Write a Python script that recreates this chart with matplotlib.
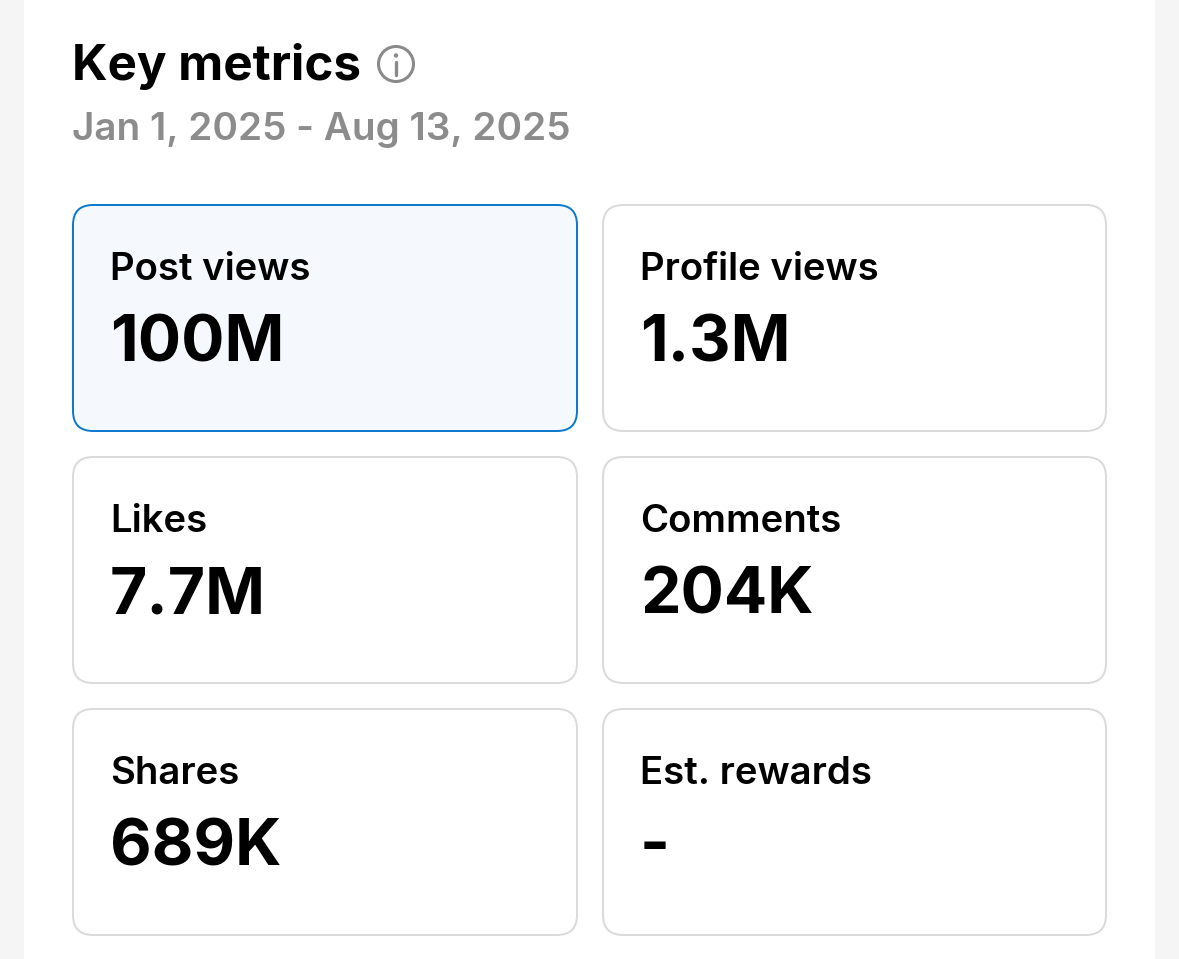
import matplotlib
matplotlib.use("Agg")
import matplotlib.pyplot as plt
from matplotlib.patches import FancyBboxPatch, Rectangle, Circle

Width = 1179
Height = 959

labels = ["Post views", "Profile views", "Likes", "Comments", "Shares", "Est. rewards"]
values = ["100M", "1.3M", "7.7M", "204K", "689K", "-"]
title = "Key metrics"
date_range = "Jan 1, 2025 - Aug 13, 2025"

col_x = [73, 603]
row_y = [205, 457, 709]
card_w = [504, 503]
card_h = 226

plt.rcParams['font.family'] = ['Inter', 'DejaVu Sans']

fig = plt.figure(figsize=(Width / 100, Height / 100), dpi=100, facecolor='#f5f5f5')
ax = fig.add_axes([0, 0, 1, 1])
ax.set_xlim(0, Width)
ax.set_ylim(Height, 0)
ax.axis('off')

# white panel
ax.add_patch(Rectangle((24, -5), 1131, Height + 10, fc='white', ec='none'))

ax.text(72.5, 66, title, fontsize=35.5, fontweight='bold', color='black', va='center', ha='left')
ax.text(72.5, 130, date_range, fontsize=27.8, fontweight='semibold', color='#8c8c8c', va='center', ha='left')

# info icon
ax.add_patch(Circle((396, 64), 17.5, fc='none', ec='#8a8a8a', lw=2.2))
ax.add_patch(Circle((396, 55.5), 2.2, fc='#8a8a8a', ec='none'))
ax.plot([396, 396], [62, 75], color='#8a8a8a', lw=2.4, solid_capstyle='round')

for i, (label, value) in enumerate(zip(labels, values)):
    x = col_x[i % 2]
    y = row_y[i // 2]
    w = card_w[i % 2]
    selected = i == 0
    ax.add_patch(FancyBboxPatch(
        (x + 20, y + 20), w - 40, card_h - 40,
        boxstyle="round,pad=20,rounding_size=20",
        fc='#f5f9fd' if selected else 'white',
        ec='#0a78cc' if selected else '#dadada',
        lw=1.4))
    ax.text(x + 37.5, y + 64.5, label, fontsize=27.6, fontweight='semibold', color='black', va='center', ha='left')
    ax.text(x + 37, y + 139, value, fontsize=46.2, fontweight='bold', color='black', va='center', ha='left')

fig.savefig("out.png", dpi=100, facecolor=fig.get_facecolor())
